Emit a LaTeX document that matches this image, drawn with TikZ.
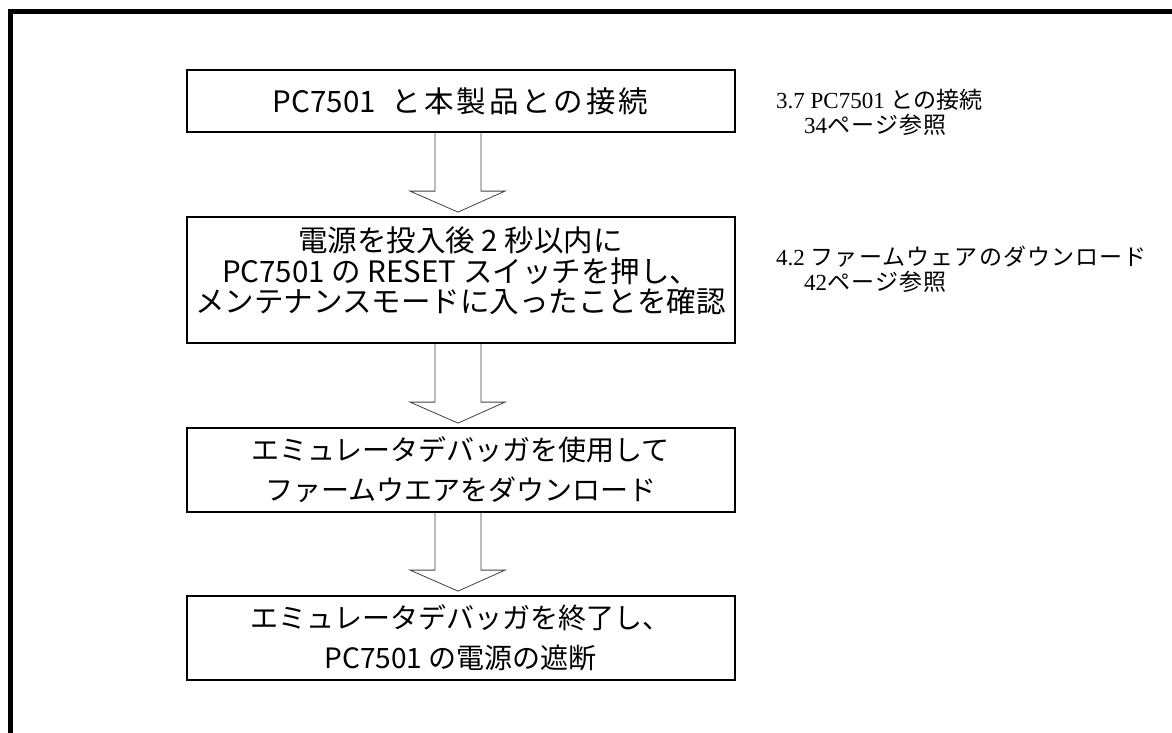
\documentclass[tikz,border=0pt]{standalone}
\usepackage{fontspec}
\setmainfont{Liberation Serif}
\newfontfamily\jpfont{Noto Sans CJK JP}
\newfontfamily\jpspaced[LetterSpace=10]{Noto Sans CJK JP}
\newfontfamily\jpwide[LetterSpace=5]{Noto Sans CJK JP}
\usetikzlibrary{calc}

\tikzset{
	stepbox/.style={draw, line width=1.8pt, minimum width=548pt, inner sep=0pt, align=center,
		font=\jpfont\fontsize{29.5}{30.5}\selectfont},
	widelines/.style={font=\jpfont\fontsize{28}{40}\selectfont},
	hollow/.style={draw=black!75, line width=0.8pt, line join=miter},
	note/.style={anchor=west, align=left, inner sep=0pt, font=\fontsize{23}{25}\selectfont},
}

% hollow block arrow from the bottom of one box to the top of the next
\newcommand{\hollowarrow}[2]{%
	\draw[hollow] ($(#1.south)+(-25.6,0)$) -- ($(#2.north)+(-25.6,-25)$) -- ($(#2.north)+(-50.6,-25)$)
		-- ($(#2.north)+(-2.6,-4)$) -- ($(#2.north)+(44.4,-25)$) -- ($(#2.north)+(20.4,-25)$)
		-- ($(#1.south)+(20.4,0)$);}

\begin{document}
\begin{tikzpicture}[x=1pt, y=-1pt]
	\useasboundingbox (0,0) rectangle (1172,733);
	\draw[line width=4.5pt] (10.3,733) -- (10.3,11.7) -- (1172,11.7);

	\node[stepbox, minimum height=62pt] (connect) at (460.6,101) {PC7501\hspace{16pt}{\jpspaced と本製品との接続}};
	\node[stepbox, minimum height=126pt, text depth=20pt] (reset) at (460.6,280)
		{電源を投入後 2 秒以内に\\PC7501 の RESET スイッチを押し、\\メンテナンスモードに入ったことを確認};
	\node[stepbox, widelines, minimum height=84pt] (download) at (460.6,470)
		{エミュレータデバッガを使用して\\ファームウエアをダウンロード};
	\node[stepbox, widelines, minimum height=84pt] (poweroff) at (460.6,638)
		{エミュレータデバッガを終了し、\\PC7501 の電源の遮断};

	\hollowarrow{connect}{reset}
	\hollowarrow{reset}{download}
	\hollowarrow{download}{poweroff}

	\node[note] (ref1) at (776,112.5) {3.7 PC7501 {\jpfont との接続}\\\hspace*{28pt}34{\jpwide ページ参照}};
	\node[note] (ref2) at (776,269) {4.2\ {\jpwide ファームウェアのダウンロード}\\\hspace*{28pt}42{\jpwide ページ参照}};
\end{tikzpicture}
\end{document}
